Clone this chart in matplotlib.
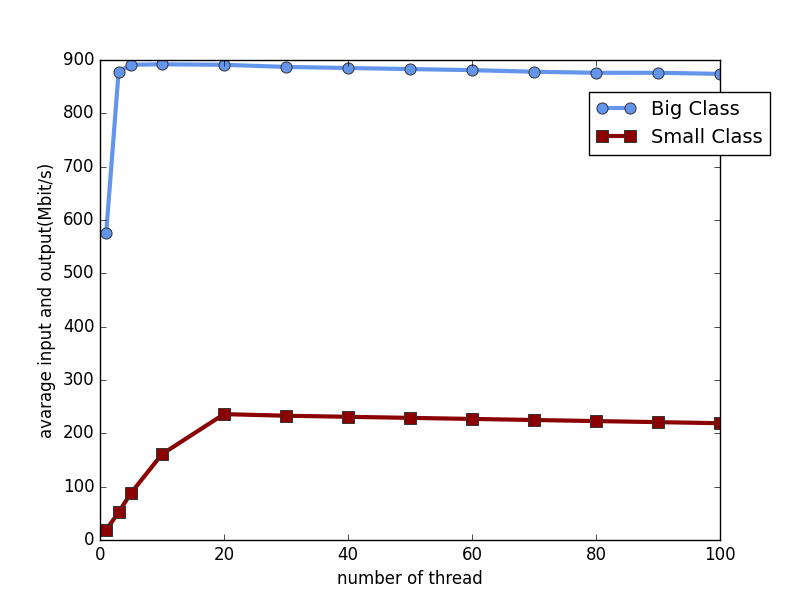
import matplotlib
matplotlib.use("Agg")
import matplotlib.pyplot as plt

threads = [1, 3, 5, 10, 20, 30, 40, 50, 60, 70, 80, 90, 100]
big_class = [576, 878, 891, 892, 891, 887, 885, 883, 881, 878, 876, 876, 874]
small_class = [19, 52, 88, 161, 236, 233, 231, 229, 227, 225, 223, 221, 219]

plt.style.use("classic")
fig, ax = plt.subplots(figsize=(8, 6), dpi=100)
fig.patch.set_facecolor("white")

ax.plot(threads, big_class, color="#6495ED", lw=3, marker="o", markersize=8,
        markeredgecolor="#333333", markeredgewidth=0.7, label="Big Class")
ax.plot(threads, small_class, color="#8B0000", lw=3, marker="s", markersize=9,
        markeredgecolor="#333333", markeredgewidth=0.7, label="Small Class")

ax.set_xlim(0, 100)
ax.set_ylim(0, 900)
ax.set_xlabel("number of thread")
ax.set_ylabel("avarage input and output(Mbit/s)")
ax.legend(loc="upper right", bbox_to_anchor=(1.097, 0.954), fontsize=14, numpoints=2)

fig.savefig("out.png", dpi=100, facecolor="white")
